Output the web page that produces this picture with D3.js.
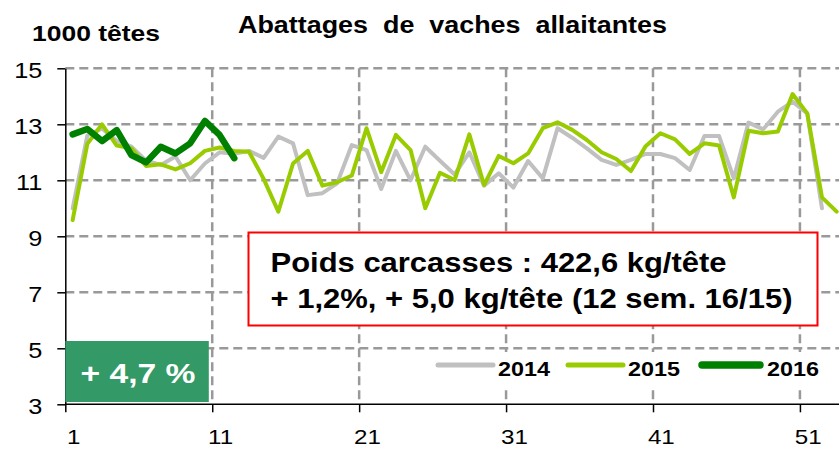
<!DOCTYPE html>
<meta charset="utf-8">
<style>
  body { margin: 0; background: #fff; }
  text { font-family: "Liberation Sans", Arial, sans-serif; }
  .grid line { stroke: #999; stroke-width: 2.5px; stroke-dasharray: 9,5; }
  .axis path, .axis line { stroke: #000; stroke-width: 1.5px; }
</style>
<body>
<svg width="839" height="449"></svg>
<script src="https://d3js.org/d3.v7.min.js"></script>
<script>
  // weekly slaughter, 1000 head (week 1..n)
  let s2014 = [10.0, 12.6, 12.85, 12.4, 12.2, 11.7, 11.55, 11.85, 11.0, 11.6,
               12.0, 11.95, 12.05, 11.8, 12.56, 12.32, 10.47, 10.54, 10.89, 12.26,
               12.08, 10.69, 12.05, 11.0, 12.2, 11.7, 11.21, 12.0, 10.81, 11.25,
               10.74, 11.69, 11.07, 12.86, 12.52, 12.14, 11.73, 11.55, 11.73, 11.94,
               11.94, 11.79, 11.37, 12.58, 12.58, 11.07, 13.06, 12.82, 13.45, 13.81,
               13.39, 10.0];
  let s2015 = [9.58, 12.3, 13.0, 12.24, 12.14, 11.51, 11.57, 11.39, 11.61, 12.05,
               12.17, 12.05, 12.02, 11.05, 9.88, 11.6, 12.05, 10.81, 10.93, 11.17,
               12.86, 11.29, 12.62, 12.08, 10.0, 11.27, 11.01, 12.64, 10.83, 11.87,
               11.61, 11.96, 12.86, 13.07, 12.8, 12.44, 12.0, 11.76, 11.33, 12.22,
               12.68, 12.46, 11.94, 12.32, 12.24, 10.39, 12.77, 12.68, 12.74, 14.08,
               13.39, 10.39, 9.88];
  let s2016 = [12.64, 12.83, 12.40, 12.79, 11.90, 11.64, 12.20, 11.96, 12.32, 13.12,
               12.62, 11.79];

  let series = [
    { name: "2014", values: s2014, color: "#c0c0c0", width: 4 },
    { name: "2015", values: s2015, color: "#99cc00", width: 4 },
    { name: "2016", values: s2016, color: "#008000", width: 6.5 }
  ];
  let yTicks = [3, 5, 7, 9, 11, 13, 15];
  let xTicks = [1, 11, 21, 31, 41, 51];

  let title = "Abattages  de  vaches  allaitantes";
  let unitLabel = "1000 têtes";
  let changeLabel = "+ 4,7 %";
  let noteLines = ["Poids carcasses : 422,6 kg/tête",
                   "+ 1,2%, + 5,0 kg/tête (12 sem. 16/15)"];

  const STRETCH = 1.15; // the source glyphs are a little wide

  var svg = d3.select("svg");

  // category boundaries on a linear scale, points sit at week + 0.5
  var x = d3.scaleLinear().domain([1, 54]).range([65.3, 844]);
  var y = d3.scaleLinear().domain([3, 15]).range([404.3, 68.3]);

  function stretch(sel, k) {
    sel.each(function() {
      let w = this.getComputedTextLength();
      d3.select(this).attr("textLength", w * (k || STRETCH))
        .attr("lengthAdjust", "spacingAndGlyphs");
    });
  }

  // grid
  var grid = svg.append("g").attr("class", "grid");
  grid.selectAll("line.h")
    .data(yTicks.filter(d => d > 3))
    .enter().append("line")
      .attr("x1", x(1)).attr("x2", 839)
      .attr("y1", d => y(d)).attr("y2", d => y(d));
  grid.selectAll("line.v")
    .data(xTicks.filter(d => d > 1))
    .enter().append("line")
      .attr("x1", d => x(d)).attr("x2", d => x(d))
      .attr("y1", y(15)).attr("y2", y(3));

  // lines
  var line = d3.line()
    .x((d, i) => x(i + 1.5))
    .y(d => y(d));

  svg.append("g").selectAll("path")
    .data(series)
    .enter().append("path")
      .attr("fill", "none")
      .attr("stroke", d => d.color)
      .attr("stroke-width", d => d.width)
      .attr("stroke-linejoin", "round")
      .attr("stroke-linecap", "round")
      .attr("d", d => line(d.values));

  // axes
  var yAxis = svg.append("g").attr("class", "axis")
    .attr("transform", "translate(" + x(1) + ",0)")
    .call(d3.axisLeft(y).tickValues(yTicks).tickSize(8).tickSizeOuter(0).tickPadding(15));
  yAxis.selectAll("text")
    .attr("font-size", 22).attr("font-family", "'Liberation Sans', Arial, sans-serif")
    .attr("fill", "#000").attr("dy", "0.4em")
    .call(stretch);

  var xAxis = svg.append("g").attr("class", "axis")
    .attr("transform", "translate(0," + y(3) + ")")
    .call(d3.axisBottom(x).tickValues(xTicks).tickSize(8).tickSizeOuter(0).tickFormat(""));
  xAxis.select("path.domain").attr("d", "M" + x(1) + ",0H839");

  svg.append("g").selectAll("text")
    .data(xTicks)
    .enter().append("text")
      .attr("x", d => x(d + 0.5) + 1)
      .attr("y", 444)
      .attr("text-anchor", "middle")
      .attr("font-size", 21)
      .text(d => d)
      .call(stretch);

  // unit + title
  svg.append("text")
    .attr("x", 32).attr("y", 41)
    .attr("font-size", 22).attr("font-weight", "bold")
    .text(unitLabel)
    .attr("textLength", 128).attr("lengthAdjust", "spacingAndGlyphs");

  svg.append("text")
    .attr("x", 238).attr("y", 33)
    .attr("font-size", 23).attr("font-weight", "bold")
    .style("white-space", "pre")
    .text(title)
    .attr("textLength", 429).attr("lengthAdjust", "spacingAndGlyphs");

  // change badge
  svg.append("rect")
    .attr("x", x(1)).attr("y", 341)
    .attr("width", 143.5).attr("height", 61)
    .attr("fill", "#339966");
  svg.append("text")
    .attr("x", 80.5).attr("y", 383)
    .attr("font-size", 28).attr("font-weight", "bold")
    .attr("fill", "#fff")
    .style("white-space", "pre")
    .text(changeLabel)
    .attr("textLength", 115).attr("lengthAdjust", "spacingAndGlyphs");

  // carcass weight note
  svg.append("rect")
    .attr("x", 248.5).attr("y", 232.5)
    .attr("width", 569).attr("height", 93)
    .attr("fill", "#fff")
    .attr("stroke", "#ff0000").attr("stroke-width", 2);
  let noteWidths = [456, 522];
  let noteY = [272, 308];
  svg.append("g").selectAll("text")
    .data(noteLines)
    .enter().append("text")
      .attr("x", 270.5)
      .attr("y", (d, i) => noteY[i])
      .attr("font-size", 28).attr("font-weight", "bold")
      .text(d => d)
      .attr("textLength", (d, i) => noteWidths[i])
      .attr("lengthAdjust", "spacingAndGlyphs");

  // legend
  var legend = svg.append("g");
  legend.append("rect")
    .attr("x", 430).attr("y", 352).attr("width", 405).attr("height", 34)
    .attr("fill", "#fff");
  let legX = [438, 568, 702];
  var item = legend.selectAll("g")
    .data(series)
    .enter().append("g")
      .attr("transform", (d, i) => "translate(" + legX[i] + ",0)");
  item.append("line")
    .attr("x1", 0).attr("x2", (d, i) => i == 2 ? 58 : 55)
    .attr("y1", 365).attr("y2", 365)
    .attr("stroke", d => d.color)
    .attr("stroke-width", d => d.width + 1)
    .attr("stroke-linecap", "round");
  item.append("text")
    .attr("x", (d, i) => i == 2 ? 65 : 60)
    .attr("y", 376)
    .attr("font-size", 20).attr("font-weight", "bold")
    .text(d => d.name)
    .attr("textLength", 52).attr("lengthAdjust", "spacingAndGlyphs");
</script>
</body>
